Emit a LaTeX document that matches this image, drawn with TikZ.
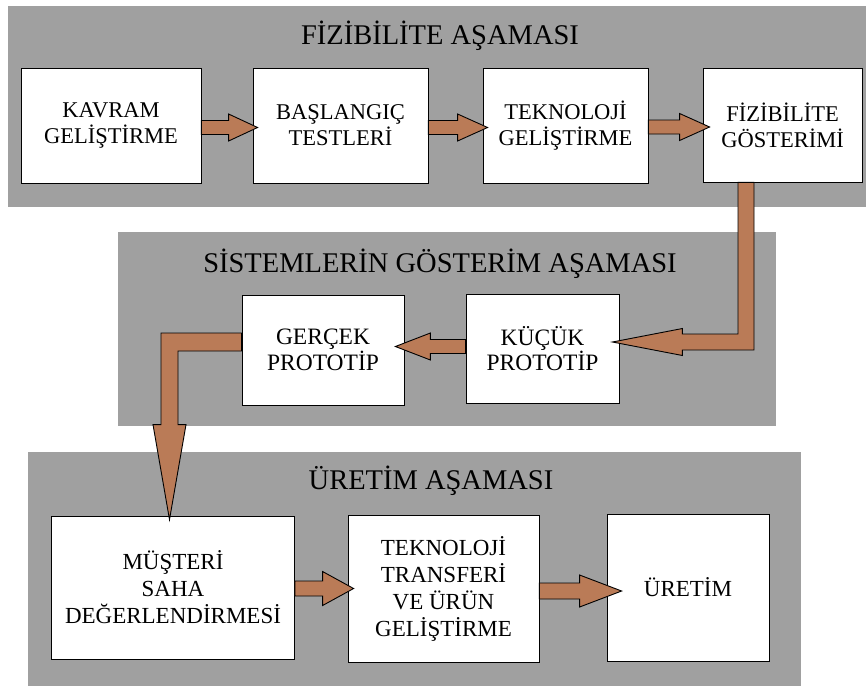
\documentclass[tikz,border=0pt]{standalone}
\usepackage{fontspec}
\setmainfont{Liberation Serif}
\usepackage{xcolor}
\usepackage{tikz}
\usetikzlibrary{calc,positioning}

\definecolor{panelgrey}{RGB}{160,160,160}
\definecolor{arrowbrown}{RGB}{186,123,87}

\tikzset{
  panel/.style={fill=panelgrey},
  phase/.style={font=\fontsize{28.5}{30}\selectfont,inner sep=0pt},
  stage/.style={draw=black,fill=white,line width=0.8pt,align=center,inner sep=2pt},
  arrowbody/.style={fill=arrowbrown,draw=black,line width=0.9pt,line join=miter}
}

% #1 start, #2 tip, #3 shaft half height, #4 head half height, #5 signed head length
\newcommand{\harrow}[5]{%
  \filldraw[arrowbody] let \p1=#1, \p2=#2 in
    (\x1,{\y2+#3}) -- ({\x2-(#5)},{\y2+#3}) -- ({\x2-(#5)},{\y2+#4}) -- (\x2,\y2)
    -- ({\x2-(#5)},{\y2-#4}) -- ({\x2-(#5)},{\y2-#3}) -- (\x1,{\y2-#3}) -- cycle;}

\begin{document}
\begin{tikzpicture}[x=1pt,y=-1pt]
  \useasboundingbox (0,0) rectangle (866,686);
  \fill[white] (0,0) rectangle (866,686);

  \fill[panel] (8,6) rectangle (866,207);
  \fill[panel] (118,232) rectangle (776,426);
  \fill[panel] (28,452) rectangle (801,686);

  \node[phase,anchor=base] (title1) at (440,44) {FİZİBİLİTE AŞAMASI};
  \node[phase,anchor=base] (title2) at (440,272) {SİSTEMLERİN GÖSTERİM AŞAMASI};
  \node[phase,anchor=base] (title3) at (431,489) {ÜRETİM AŞAMASI};

  \begin{scope}[every node/.append style={font=\fontsize{22.5}{26}\selectfont}]
    \node[stage,minimum width=180pt,minimum height=115pt] (kavram) at (111,125.5) {KAVRAM\\GELİŞTİRME};
    \node[stage,minimum width=175pt,minimum height=115pt] (basla) at (340.5,125.5) {BAŞLANGIÇ\\TESTLERİ};
    \node[stage,minimum width=165pt,minimum height=115pt] (tekno) at (565.5,125.5) {TEKNOLOJİ\\GELİŞTİRME};
    \node[stage,minimum width=159pt,minimum height=114pt] (fiz) at (782.5,125) {FİZİBİLİTE\\GÖSTERİMİ};
  \end{scope}

  \begin{scope}[every node/.append style={font=\fontsize{23.5}{25.5}\selectfont}]
    \node[stage,minimum width=162pt,minimum height=110pt] (gercek) at (323,350) {GERÇEK\\PROTOTİP};
    \node[stage,minimum width=153pt,minimum height=109pt] (kucuk) at (542.5,348.5) {KÜÇÜK\\PROTOTİP};
  \end{scope}

  \begin{scope}[every node/.append style={font=\fontsize{23}{27}\selectfont}]
    \node[stage,minimum width=243pt,minimum height=143pt] (musteri) at (173,587.5) {MÜŞTERİ\\SAHA\\DEĞERLENDİRMESİ};
    \node[stage,minimum width=191pt,minimum height=147pt] (transfer) at (443.5,588.5) {TEKNOLOJİ\\TRANSFERİ\\VE ÜRÜN\\GELİŞTİRME};
    \node[stage,minimum width=162pt,minimum height=147pt] (uretim) at (688,587.5) {ÜRETİM};
  \end{scope}

  \harrow{(kavram.east)}{([xshift=5pt,yshift=-2pt]basla.west)}{7pt}{13.5pt}{29pt}
  \harrow{(basla.east)}{([xshift=5pt,yshift=-2pt]tekno.west)}{7pt}{13.5pt}{30pt}
  \harrow{(tekno.east)}{([xshift=7pt,yshift=-2pt]fiz.west)}{7pt}{13.5pt}{30pt}
  \harrow{(kucuk.west)}{([xshift=-9pt,yshift=3.5pt]gercek.east)}{7pt}{13.5pt}{-35pt}
  \harrow{(musteri.east)}{([xshift=6pt,yshift=0pt]transfer.west)}{7.5pt}{17pt}{31pt}
  \harrow{(transfer.east)}{([xshift=15pt,yshift=-3.5pt]uretim.west)}{8pt}{16pt}{42pt}

  \filldraw[arrowbody] let \p1=([xshift=-36.5pt]fiz.south), \p2=([xshift=-7pt,yshift=6.5pt]kucuk.east) in
    (\x1-8pt,\y1) -- (\x1+8pt,\y1) -- (\x1+8pt,\y2-8pt) -- (\x2+70pt,\y2-8pt) -- (\x2+70pt,\y2-13.5pt)
    -- (\x2,\y2) -- (\x2+70pt,\y2+13.5pt) -- (\x2+70pt,\y2+8pt) -- (\x1-8pt,\y2+8pt) -- cycle;
  \filldraw[arrowbody] let \p1=([yshift=8pt]gercek.west), \p2=([xshift=-3.5pt,yshift=-4pt]musteri.north) in
    (\x1,\y1+9pt) -- (\x2-8.5pt,\y1+9pt) -- (\x2-8.5pt,\y2+95pt) -- (\x2-16.5pt,\y2+95pt)
    -- (\x2,\y2) -- (\x2+16.5pt,\y2+95pt) -- (\x2+8.5pt,\y2+95pt) -- (\x2+8.5pt,\y1-9pt) -- (\x1,\y1-9pt) -- cycle;
\end{tikzpicture}
\end{document}
